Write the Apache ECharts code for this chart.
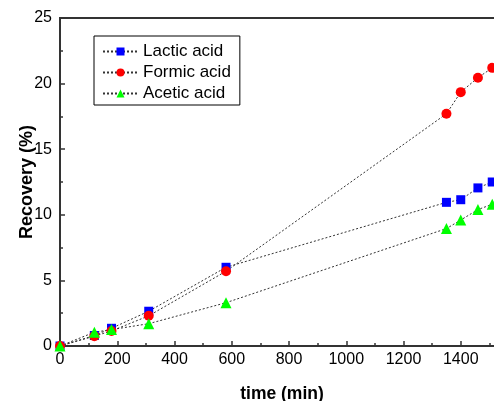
<!DOCTYPE html>
<html>
<head>
<meta charset="utf-8">
<script src="https://cdn.jsdelivr.net/npm/echarts@6/dist/echarts.min.js"></script>
<style>
  html, body { margin: 0; padding: 0; background: #ffffff; }
  #chart { width: 494px; height: 401px; }
</style>
</head>
<body>
<div id="chart"></div>
<script>
// Sampling times (min) and cumulative recovery (%) of each acid
const timeMin = [0, 120, 180, 310, 580, 1350, 1400, 1460, 1510];
const lacticAcid = [0, 0.8, 1.35, 2.65, 6.0, 10.95, 11.15, 12.05, 12.5];
const formicAcid = [0, 0.75, 1.15, 2.3, 5.7, 17.7, 19.35, 20.45, 21.2];
const aceticAcid = [0, 1.05, 1.25, 1.7, 3.3, 8.95, 9.6, 10.4, 10.8];

const seriesNames = ['Lactic acid', 'Formic acid', 'Acetic acid'];
const seriesColors = ['#0000ff', '#ff0000', '#00ff00'];

const FONT = '"Liberation Sans", Arial, sans-serif';
const AXIS_COLOR = '#333333';

function pairs(values) {
  return timeMin.map((t, i) => [t, values[i]]);
}

function makeSeries(name, values, color, symbol, size) {
  return {
    name: name,
    type: 'line',
    data: pairs(values),
    symbol: symbol,
    symbolSize: size,
    showAllSymbol: true,
    lineStyle: { color: '#333333', width: 1, type: [2, 2] },
    itemStyle: { color: color },
    emphasis: { disabled: true },
    animation: false,
    z: 3
  };
}

const plainNumber = (v) => String(v);

const chart = echarts.init(document.getElementById('chart'), null, { renderer: 'canvas' });

chart.setOption({
  animation: false,
  backgroundColor: '#ffffff',
  grid: {
    left: 60,
    top: 18,
    bottom: 55,
    right: -24,
    containLabel: false,
    outerBoundsMode: 'none',
    show: true,
    borderColor: AXIS_COLOR,
    borderWidth: 2,
    backgroundColor: 'transparent'
  },
  legend: {
    orient: 'vertical',
    left: 94,
    top: 36,
    padding: [7, 9, 3, 8],
    itemGap: 4,
    itemWidth: 35,
    itemHeight: 10,
    borderColor: '#000000',
    borderWidth: 1,
    backgroundColor: '#ffffff',
    textStyle: { fontFamily: FONT, fontSize: 17, color: '#000000', lineHeight: 17 },
    data: seriesNames
  },
  xAxis: {
    type: 'value',
    min: 0,
    max: 1600,
    interval: 200,
    name: 'time (min)',
    nameLocation: 'middle',
    nameGap: 39,
    nameMoveOverlap: false,
    nameTextStyle: {
      fontFamily: FONT, fontSize: 17.5, fontWeight: 'bold', color: '#000000',
      padding: [0, 14, 0, 0]
    },
    axisLine: { show: true, onZero: false, lineStyle: { color: AXIS_COLOR, width: 2 } },
    axisTick: { show: true, inside: true, length: 5, lineStyle: { color: AXIS_COLOR, width: 1.5 } },
    minorTick: { show: true, splitNumber: 2, length: 3, lineStyle: { color: AXIS_COLOR, width: 1.5 } },
    axisLabel: { fontFamily: FONT, fontSize: 16, color: '#000000', margin: 6, formatter: plainNumber },
    splitLine: { show: false }
  },
  yAxis: {
    type: 'value',
    min: 0,
    max: 25,
    interval: 5,
    name: 'Recovery (%)',
    nameLocation: 'middle',
    nameGap: 24,
    nameMoveOverlap: false,
    nameTextStyle: { fontFamily: FONT, fontSize: 18, fontWeight: 'bold', color: '#000000' },
    axisLine: { show: true, onZero: false, lineStyle: { color: AXIS_COLOR, width: 2 } },
    axisTick: { show: true, inside: true, length: 5, lineStyle: { color: AXIS_COLOR, width: 1.5 } },
    minorTick: { show: true, splitNumber: 2, length: 3, lineStyle: { color: AXIS_COLOR, width: 1.5 } },
    axisLabel: { fontFamily: FONT, fontSize: 16, color: '#000000', margin: 8, formatter: plainNumber },
    splitLine: { show: false }
  },
  series: [
    makeSeries(seriesNames[0], lacticAcid, seriesColors[0], 'rect', 9),
    makeSeries(seriesNames[1], formicAcid, seriesColors[1], 'circle', 10),
    makeSeries(seriesNames[2], aceticAcid, seriesColors[2], 'triangle', 11)
  ]
});
</script>
</body>
</html>
